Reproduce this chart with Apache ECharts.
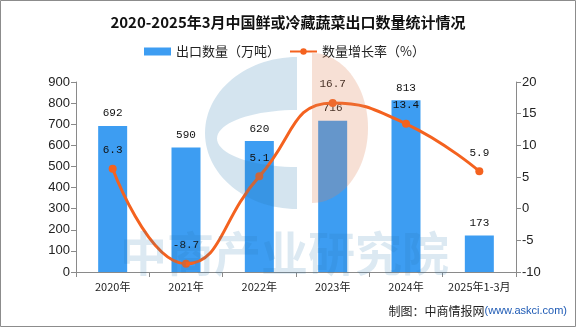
<!DOCTYPE html>
<html>
<head>
<meta charset="utf-8">
<script src="https://cdn.jsdelivr.net/npm/echarts@6/dist/echarts.min.js"></script>
<style>
  html, body { margin: 0; padding: 0; background: #fff; }
  #chart { width: 576px; height: 327px; }
</style>
</head>
<body>
<div id="chart"></div>
<script>
// Export volume of fresh or chilled vegetables, 2020 – Q1 2025
const categories = ['2020年', '2021年', '2022年', '2023年', '2024年', '2025年1-3月'];
const exportVolume = [692, 590, 620, 716, 813, 173];      // 万吨
const growthRate = [6.3, -8.7, 5.1, 16.7, 13.4, 5.9];      // %
const leftTicks = { min: 0, max: 900, interval: 100 };
const rightTicks = { min: -10, max: 20, interval: 5 };

const cjk = '"Noto Sans CJK SC", "Noto Sans", sans-serif';
const labelFont = '"Liberation Mono", "DejaVu Sans Mono", monospace';

// sample points along an elliptical arc (angles in degrees, screen coords)
function arc(cx, cy, rx, ry, a0, a1, n) {
  const pts = [];
  for (let i = 0; i <= n; i++) {
    const a = (a0 + (a1 - a0) * i / n) * Math.PI / 180;
    pts.push([cx + rx * Math.cos(a), cy + ry * Math.sin(a)]);
  }
  return pts;
}

// watermark logo outlines
const logoBlue = [[297, 57], [297, 110]]
  .concat(arc(297, 138.5, 80, 28.5, -90, -270, 40))
  .concat([[297, 209]])
  .concat(arc(297, 133, 92, 76, 90, 270, 60));
const logoSalmon = arc(312, 128, 56, 75, -90, 90, 50);

const chart = echarts.init(document.getElementById('chart'), null, { renderer: 'canvas' });

chart.setOption({
  animation: false,
  backgroundColor: '#ffffff',
  textStyle: { fontFamily: cjk },
  title: {
    text: '2020-2025年3月中国鲜或冷藏蔬菜出口数量统计情况',
    left: 'center',
    top: 10,
    textStyle: { fontSize: 15, fontWeight: 'bold', color: '#111', fontFamily: cjk }
  },
  legend: {
    top: 40,
    left: 139,
    itemGap: 9,
    itemWidth: 27,
    itemHeight: 8,
    textStyle: { fontSize: 13, color: '#222', fontFamily: cjk },
    data: [
      { name: '出口数量（万吨）', icon: 'rect' },
      { name: '数量增长率（%）' }
    ]
  },
  grid: { left: 76, right: 60, top: 82, bottom: 55 },
  xAxis: {
    type: 'category',
    data: categories,
    axisLine: { lineStyle: { color: '#8a8a8a' } },
    axisTick: { show: true, alignWithLabel: false, lineStyle: { color: '#8a8a8a' } },
    axisLabel: { interval: 0, color: '#222', fontSize: 11, margin: 9, fontFamily: cjk }
  },
  yAxis: [
    {
      type: 'value',
      min: leftTicks.min, max: leftTicks.max, interval: leftTicks.interval,
      axisLine: { show: true, lineStyle: { color: '#8a8a8a' } },
      axisTick: { show: true, lineStyle: { color: '#8a8a8a' } },
      splitLine: { show: false },
      axisLabel: { color: '#222', fontSize: 13, margin: 6, fontFamily: 'Liberation Sans, sans-serif' }
    },
    {
      type: 'value',
      min: rightTicks.min, max: rightTicks.max, interval: rightTicks.interval,
      axisLine: { show: true, lineStyle: { color: '#8a8a8a' } },
      axisTick: { show: true, lineStyle: { color: '#8a8a8a' } },
      splitLine: { show: false },
      axisLabel: { color: '#222', fontSize: 13, margin: 6, fontFamily: 'Liberation Sans, sans-serif' }
    }
  ],
  series: [
    {
      name: '出口数量（万吨）',
      type: 'bar',
      data: exportVolume,
      barWidth: 29,
      itemStyle: { color: '#3d9df2' },
      label: {
        show: true, position: 'top', distance: 7,
        color: '#111', fontSize: 11, fontFamily: labelFont
      },
      z: 2
    },
    {
      name: '数量增长率（%）',
      type: 'line',
      yAxisIndex: 1,
      data: growthRate,
      smooth: 0.5,
      symbol: 'circle',
      symbolSize: 8,
      lineStyle: { color: '#f4621f', width: 3 },
      itemStyle: { color: '#f4621f' },
      label: {
        show: true, position: 'top', distance: 9,
        color: '#111', fontSize: 11, fontFamily: labelFont
      },
      z: 3
    }
  ],
  graphic: [
    {
      type: 'polygon', z: 10, silent: true,
      shape: { points: logoBlue },
      style: { fill: 'rgba(40,120,175,0.2)' }
    },
    {
      type: 'polygon', z: 10, silent: true,
      shape: { points: logoSalmon },
      style: { fill: 'rgba(222,130,88,0.25)' }
    },
    {
      type: 'text', z: 10, silent: true,
      left: 120, top: 230,
      style: {
        text: '中商产业研究院',
        font: 'bold 47px "Noto Sans CJK SC", sans-serif',
        fill: 'rgba(40,120,175,0.16)'
      }
    },
    {
      type: 'text', z: 10,
      right: 9, top: 305,
      style: {
        text: '{a|制图：中商情报网}{b|(www.askci.com)}',
        rich: {
          a: { fontSize: 12, fill: '#222', fontFamily: cjk },
          b: { fontSize: 11, fill: '#1f5bb5', fontFamily: 'Liberation Sans, sans-serif' }
        }
      }
    },
    {
      type: 'rect', z: 20, silent: true,
      shape: { x: 0.5, y: 0.5, width: 575, height: 326 },
      style: { fill: 'none', stroke: '#8c8c8c', lineWidth: 1 }
    }
  ]
});
</script>
</body>
</html>
